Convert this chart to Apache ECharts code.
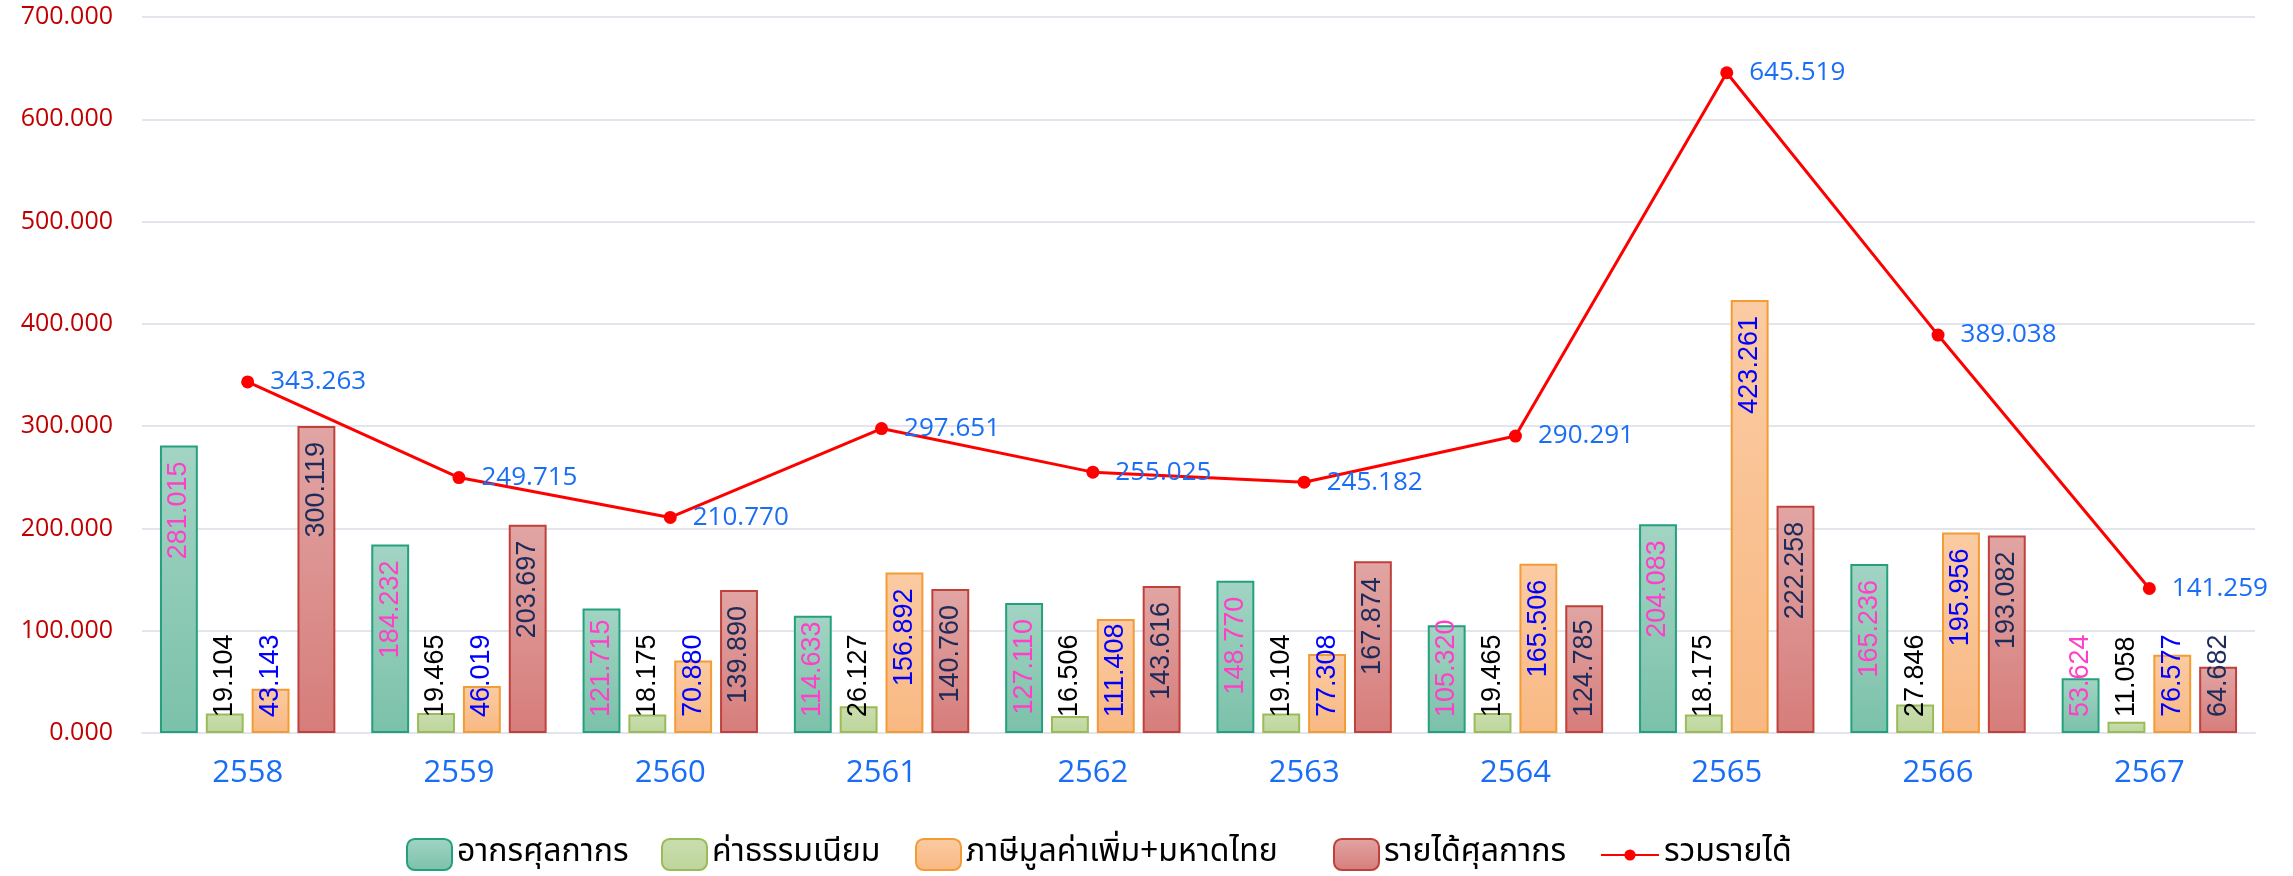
<!DOCTYPE html>
<html>
<head>
<meta charset="utf-8">
<script src="https://cdn.jsdelivr.net/npm/echarts@6/dist/echarts.min.js"></script>
<style>
html,body{margin:0;padding:0;background:#fff;}
#chart{width:2293px;height:876px;}
</style>
</head>
<body>
<div id="chart"></div>
<script>
const categories = ['2558','2559','2560','2561','2562','2563','2564','2565','2566','2567'];
const seriesNames = ['อากรศุลกากร','ค่าธรรมเนียม','ภาษีมูลค่าเพิ่ม+มหาดไทย','รายได้ศุลกากร','รวมรายได้'];
const customsDuty = [281.015,184.232,121.715,114.633,127.110,148.770,105.320,204.083,165.236,53.624];
const fees = [19.104,19.465,18.175,26.127,16.506,19.104,19.465,18.175,27.846,11.058];
const vatInterior = [43.143,46.019,70.880,156.892,111.408,77.308,165.506,423.261,195.956,76.577];
const customsRevenue = [300.119,203.697,139.890,140.760,143.616,167.874,124.785,222.258,193.082,64.682];
const totalRevenue = [343.263,249.715,210.770,297.651,255.025,245.182,290.291,645.519,389.038,141.259];
const yTicks = {min:0, max:700, interval:100};

const chart = echarts.init(document.getElementById('chart'));
const barFont = '"Liberation Sans Narrow","Arial Narrow","Liberation Sans",sans-serif';
const barFontSize = 27;
const uiFont = '"Open Sans","Noto Sans",sans-serif';
const thaiFont = '"Noto Sans Thai","Noto Sans Thai Looped","Loma","Garuda","Noto Sans",sans-serif';

const barDefs = [
  {data: customsDuty, top:'#a2d4c3', bottom:'#7bc1aa', border:'#25a07e', label:'#ff3fc8'},
  {data: fees, top:'#cadeae', bottom:'#bdd59c', border:'#9bbb59', label:'#000000'},
  {data: vatInterior, top:'#fbcba3', bottom:'#f8b882', border:'#f39c35', label:'#0000ff'},
  {data: customsRevenue, top:'#e1a5a3', bottom:'#d67d7b', border:'#c0403c', label:'#1c2b5a'}
];

const canvas = document.createElement('canvas');
const ctx = canvas.getContext('2d');
ctx.font = barFontSize + 'px ' + barFont;

const grid = {left:142, right:38, top:17, bottom:143};
const pxPerUnit = (876 - grid.top - grid.bottom) / (yTicks.max - yTicks.min);
const pad = 16;

function barData(values){
  return values.map(v => {
    const txt = v.toFixed(3);
    const len = ctx.measureText(txt).width;
    const h = v * pxPerUnit;
    const fitsTop = h >= len + 2*pad;
    return {
      value: v,
      label: fitsTop
        ? {position:'insideTop', align:'right', verticalAlign:'middle', distance:pad}
        : {position:'insideBottom', align:'left', verticalAlign:'middle', distance:pad}
    };
  });
}

const series = barDefs.map((d,i) => ({
  name: seriesNames[i],
  type: 'bar',
  barGap: '21%',
  barCategoryGap: '17%',
  data: barData(d.data),
  itemStyle: {
    color: new echarts.graphic.LinearGradient(0,0,0,1,[{offset:0,color:d.top},{offset:1,color:d.bottom}]),
    borderColor: d.border,
    borderWidth: 2
  },
  label: {
    show: true,
    rotate: 90,
    color: d.label,
    fontFamily: barFont,
    fontSize: barFontSize,
    formatter: p => p.value.toFixed(3)
  },
  emphasis: {disabled: true},
  z: 2
}));

series.push({
  name: seriesNames[4],
  type: 'line',
  data: totalRevenue,
  symbol: 'circle',
  symbolSize: 13,
  lineStyle: {color:'#ff0000', width:3},
  itemStyle: {color:'#ff0000'},
  label: {
    show: true,
    position: 'right',
    distance: 16,
    color: '#1a6ef5',
    fontFamily: uiFont,
    fontSize: 26,
    formatter: p => p.value.toFixed(3)
  },
  emphasis: {disabled: true},
  z: 5
});

const legendText = {fontFamily: thaiFont, fontSize: 32, color:'#000'};
const legendLefts = [401, 656, 910, 1328, 1595];
const legends = seriesNames.map((n,i) => ({
  data: [n],
  left: legendLefts[i],
  top: 'bottom',
  bottom: 10,
  itemWidth: i < 4 ? 45 : 58,
  itemHeight: i < 4 ? 31 : 14,
  itemGap: 0,
  textStyle: legendText,
  selectedMode: false
}));

chart.setOption({
  animation: false,
  backgroundColor: '#ffffff',
  grid: grid,
  legend: legends,
  xAxis: {
    type: 'category',
    data: categories,
    axisLine: {show:true, lineStyle:{color:'#e2e6ec', width:2}},
    axisTick: {show:false},
    axisLabel: {color:'#1a6ef5', fontFamily: uiFont, fontSize: 31, margin: 25}
  },
  yAxis: {
    type: 'value',
    min: yTicks.min, max: yTicks.max, interval: yTicks.interval,
    axisLine: {show:false},
    axisTick: {show:false},
    splitLine: {lineStyle:{color:'#e2e6ec', width:2}},
    axisLabel: {color:'#c00000', fontFamily: uiFont, fontSize: 25, margin: 29, formatter: v => v.toFixed(3)}
  },
  series: series
});
</script>
</body>
</html>
